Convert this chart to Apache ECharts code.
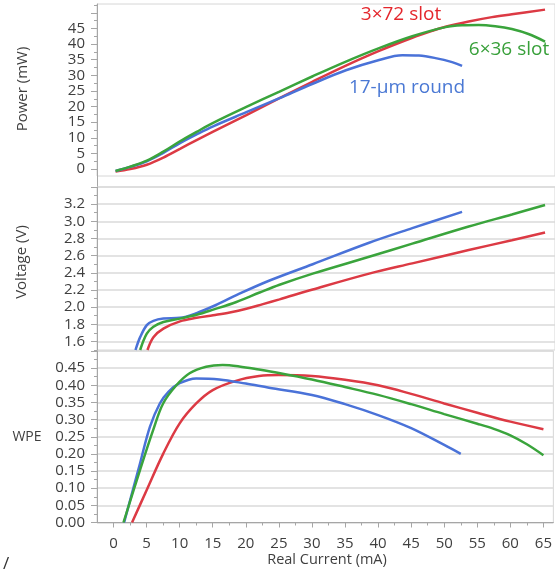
<!DOCTYPE html>
<html><head><meta charset="utf-8">
<script src="https://cdn.jsdelivr.net/npm/echarts@6/dist/echarts.min.js"></script>
<style>html,body{margin:0;padding:0;background:#fff}#c{width:555px;height:575px}</style>
</head><body><div id="c"></div>
<script>
// ---- tick labels ----
const currentTicks = [0,5,10,15,20,25,30,35,40,45,50,55,60,65];
const currentMinorTicks = [2.5,7.5,12.5,17.5,22.5,27.5,32.5,37.5,42.5,47.5,52.5,57.5,62.5];
const powerLabels = [0,5,10,15,20,25,30,35,40,45];
const powerTicks = [0,5,10,15,20,25,30,35,40,45,50];
const powerMinorTicks = [2.5,7.5,12.5,17.5,22.5,27.5,32.5,37.5,42.5,47.5,52.5];
const voltLabels = [1.6,1.8,2.0,2.2,2.4,2.6,2.8,3.0,3.2];
const voltTicks = [1.6,1.8,2.0,2.2,2.4,2.6,2.8,3.0,3.2,3.4];
const voltMinorTicks = [1.5,1.7,1.9,2.1,2.3,2.5,2.7,2.9,3.1,3.3];
const wpeLabels = [0,0.05,0.10,0.15,0.20,0.25,0.30,0.35,0.40,0.45];
const wpeTicks = [0,0.05,0.10,0.15,0.20,0.25,0.30,0.35,0.40,0.45,0.50];
const wpeMinorTicks = [0.025,0.075,0.125,0.175,0.225,0.275,0.325,0.375,0.425,0.475];

// ---- series names ----
const seriesNames = ['3×72 slot','17-µm round','6×36 slot'];

// ---- Power (mW) ----
const redPowerI   = [0.3, 2.5, 5, 7.5, 10, 12.5, 15, 20, 25, 30, 35, 40, 45, 48, 50, 53.5, 57, 60, 65];
const redPower    = [-0.8, 0.0, 1.4, 3.7, 6.5, 9.3, 12.0, 17.3, 22.7, 28.0, 33.1, 37.8, 42.0, 44.2, 45.5, 47.2, 48.6, 49.5, 51.0];
const bluePowerI  = [0.3, 2.5, 5, 7.5, 10, 12.5, 15, 20, 25, 30, 35, 40, 43.5, 46, 48.5, 51, 52.5];
const bluePower   = [-0.6, 0.7, 2.5, 5.2, 8.3, 11.1, 13.7, 18.2, 22.7, 27.3, 31.6, 34.9, 36.4, 36.3, 35.5, 34.2, 33.0];
const greenPowerI = [0.3, 2.5, 5, 7.5, 10, 12.5, 15, 20, 25, 30, 35, 40, 45, 50, 52.5, 55, 57.5, 60, 62.5, 65];
const greenPower  = [-0.6, 0.8, 2.7, 5.6, 8.9, 11.9, 14.8, 19.9, 24.8, 29.7, 34.4, 38.7, 42.5, 45.4, 46.0, 46.1, 45.7, 44.8, 43.2, 40.8];

// ---- Voltage (V) ----
const redVoltI   = [5.1, 6, 7.5, 10, 12.5, 15, 17.5, 20, 22.5, 25, 30, 38.5, 45, 53.5, 60, 65];
const redVolt    = [1.50, 1.65, 1.75, 1.834, 1.875, 1.905, 1.937, 1.98, 2.035, 2.09, 2.205, 2.39, 2.51, 2.665, 2.78, 2.87];
const blueVoltI  = [3.3, 4, 5, 6, 7.5, 10, 12.5, 15, 18.5, 23.5, 30, 38.5, 45, 52.5];
const blueVolt   = [1.50, 1.65, 1.79, 1.84, 1.866, 1.875, 1.93, 2.01, 2.14, 2.31, 2.50, 2.75, 2.92, 3.11];
const greenVoltI = [4, 5, 6, 7.5, 10, 12.5, 15, 18.5, 22, 25, 30, 38.5, 45, 53.5, 60, 65];
const greenVolt  = [1.50, 1.69, 1.77, 1.826, 1.866, 1.91, 1.97, 2.06, 2.17, 2.26, 2.39, 2.587, 2.74, 2.94, 3.08, 3.19];

// ---- WPE ----
const redWpeI   = [2.8, 5, 7.5, 10, 12.5, 15, 18.5, 22, 25, 30, 35, 40, 45, 50, 55, 60, 65];
const redWpe    = [0, 0.094, 0.200, 0.289, 0.347, 0.386, 0.413, 0.427, 0.430, 0.427, 0.416, 0.400, 0.375, 0.347, 0.320, 0.294, 0.272];
const blueWpeI  = [1.6, 4, 5.5, 7, 8.3, 10, 12.5, 16, 20, 23.5, 30, 35, 40, 45, 50, 52.5];
const blueWpe   = [0, 0.172, 0.279, 0.347, 0.381, 0.406, 0.420, 0.417, 0.405, 0.393, 0.372, 0.345, 0.313, 0.275, 0.226, 0.200];
const greenWpeI = [1.5, 4, 6, 7.5, 9.5, 11.5, 14, 16.5, 19, 22, 25, 30, 35, 40, 45, 50, 55, 57.5, 60, 62.5, 65];
const greenWpe  = [0, 0.153, 0.270, 0.347, 0.400, 0.435, 0.454, 0.459, 0.455, 0.446, 0.436, 0.417, 0.395, 0.372, 0.345, 0.316, 0.288, 0.273, 0.254, 0.228, 0.196];

const RED = '#dc3a44', BLUE = '#4a72d8', GREEN = '#3aa43c';
const TXT = '#3f3f3f', AXIS = '#a6a6a6', GRIDC = '#dadada';
const FONT = 'Open Sans';
const zip = (a, b) => a.map((v, i) => [v, b[i]]);

const chart = echarts.init(document.getElementById('c'), null, {renderer: 'canvas'});

const gridBase = {left: 97, width: 460, show: true, borderColor: '#d6d6d6', borderWidth: 1, backgroundColor: '#fff'};
const xBase = {type: 'value', min: -2.5, max: 66.5, splitLine: {show: false},
  axisLine: {show: false, onZero: false}, axisTick: {show: false}, axisLabel: {show: false}};

function yMajor(grid, min, max, labels, ticks, digits, split) {
  return {type: 'value', gridIndex: grid, min: min, max: max, position: 'left',
    axisLine: {show: true, onZero: false, lineStyle: {color: AXIS, width: 1}},
    axisTick: {show: true, length: 6, customValues: ticks, lineStyle: {color: AXIS}},
    axisLabel: {show: true, customValues: labels, margin: 12, color: TXT, fontFamily: FONT, fontSize: 15,
      formatter: v => v.toFixed(digits)},
    splitLine: {show: split, lineStyle: {color: GRIDC, width: 1.5}}};
}
function yMinor(grid, min, max, ticks) {
  return {type: 'value', gridIndex: grid, min: min, max: max, position: 'left',
    axisLine: {show: false, onZero: false}, axisLabel: {show: false}, splitLine: {show: false},
    axisTick: {show: true, length: 3, customValues: ticks, lineStyle: {color: AXIS}}};
}

function line(name, color, xi, yi, data) {
  return {name: name, type: 'line', xAxisIndex: xi, yAxisIndex: yi, data: data,
    showSymbol: false, smooth: 0.35, lineStyle: {color: color, width: 2.5}, itemStyle: {color: color},
    emphasis: {disabled: true}, animation: false};
}

const option = {
  animation: false,
  backgroundColor: '#fff',
  grid: [
    Object.assign({top: 4, height: 172}, gridBase),
    Object.assign({top: 187, height: 163}, gridBase),
    Object.assign({top: 351, height: 171.5}, gridBase)
  ],
  xAxis: [
    Object.assign({gridIndex: 0}, xBase),
    Object.assign({gridIndex: 1}, xBase),
    {type: 'value', gridIndex: 2, min: -2.5, max: 66.5, position: 'bottom',
      axisLine: {show: true, onZero: false, lineStyle: {color: AXIS}},
      axisTick: {show: true, length: 5, customValues: currentTicks, lineStyle: {color: AXIS}},
      axisLabel: {show: true, customValues: currentTicks, margin: 14, color: TXT, fontFamily: FONT, fontSize: 15},
      splitLine: {show: false}},
    {type: 'value', gridIndex: 2, min: -2.5, max: 66.5, position: 'bottom', offset: 0,
      axisLine: {show: false, onZero: false}, axisLabel: {show: false}, splitLine: {show: false},
      axisTick: {show: true, length: 3, customValues: currentMinorTicks, lineStyle: {color: AXIS}}}
  ],
  yAxis: [
    yMajor(0, -2.2, 52.8, powerLabels, powerTicks, 0, false),
    yMinor(0, -2.2, 52.8, powerMinorTicks),
    yMajor(1, 1.5, 3.4, voltLabels, voltTicks, 1, true),
    yMinor(1, 1.5, 3.4, voltMinorTicks),
    yMajor(2, 0, 0.5, wpeLabels, wpeTicks, 2, true),
    yMinor(2, 0, 0.5, wpeMinorTicks)
  ],
  series: [
    line(seriesNames[0], RED, 0, 0, zip(redPowerI, redPower)),
    line(seriesNames[1], BLUE, 0, 0, zip(bluePowerI, bluePower)),
    line(seriesNames[2], GREEN, 0, 0, zip(greenPowerI, greenPower)),
    line(seriesNames[0], RED, 1, 2, zip(redVoltI, redVolt)),
    line(seriesNames[1], BLUE, 1, 2, zip(blueVoltI, blueVolt)),
    line(seriesNames[2], GREEN, 1, 2, zip(greenVoltI, greenVolt)),
    line(seriesNames[0], RED, 2, 4, zip(redWpeI, redWpe)),
    line(seriesNames[1], BLUE, 2, 4, zip(blueWpeI, blueWpe)),
    line(seriesNames[2], GREEN, 2, 4, zip(greenWpeI, greenWpe))
  ],
  graphic: [
    {type: 'line', shape: {x1: 97.5, y1: 176, x2: 97.5, y2: 187}, style: {stroke: AXIS, lineWidth: 1}, silent: true},
    {type: 'text', x: 23, y: 89, rotation: Math.PI / 2, style: {text: 'Power (mW)', fill: TXT, font: '15px "Open Sans"', textAlign: 'center', textVerticalAlign: 'middle'}},
    {type: 'text', x: 22, y: 262, rotation: Math.PI / 2, style: {text: 'Voltage (V)', fill: TXT, font: '15px "Open Sans"', textAlign: 'center', textVerticalAlign: 'middle'}},
    {type: 'text', x: 27, y: 437, style: {text: 'WPE', fill: TXT, font: '14px "Open Sans"', textAlign: 'center', textVerticalAlign: 'middle'}},
    {type: 'text', x: 327, y: 560, style: {text: 'Real Current (mA)', fill: TXT, font: '14.5px "Open Sans"', textAlign: 'center', textVerticalAlign: 'middle'}},
    {type: 'text', x: 6, y: 564, style: {text: '/', fill: '#333', font: '17px "Open Sans"', textAlign: 'center', textVerticalAlign: 'middle'}},
    {type: 'text', x: 401, y: 15, style: {text: seriesNames[0], fill: '#e4262c', font: '19px "Open Sans"', textAlign: 'center', textVerticalAlign: 'middle'}},
    {type: 'text', x: 509, y: 50, style: {text: seriesNames[2], fill: '#38a03a', font: '19px "Open Sans"', textAlign: 'center', textVerticalAlign: 'middle'}},
    {type: 'text', x: 407, y: 88, style: {text: seriesNames[1], fill: '#4a78d4', font: '19px "Open Sans"', textAlign: 'center', textVerticalAlign: 'middle'}}
  ]
};
chart.setOption(option);
</script>
</body></html>
